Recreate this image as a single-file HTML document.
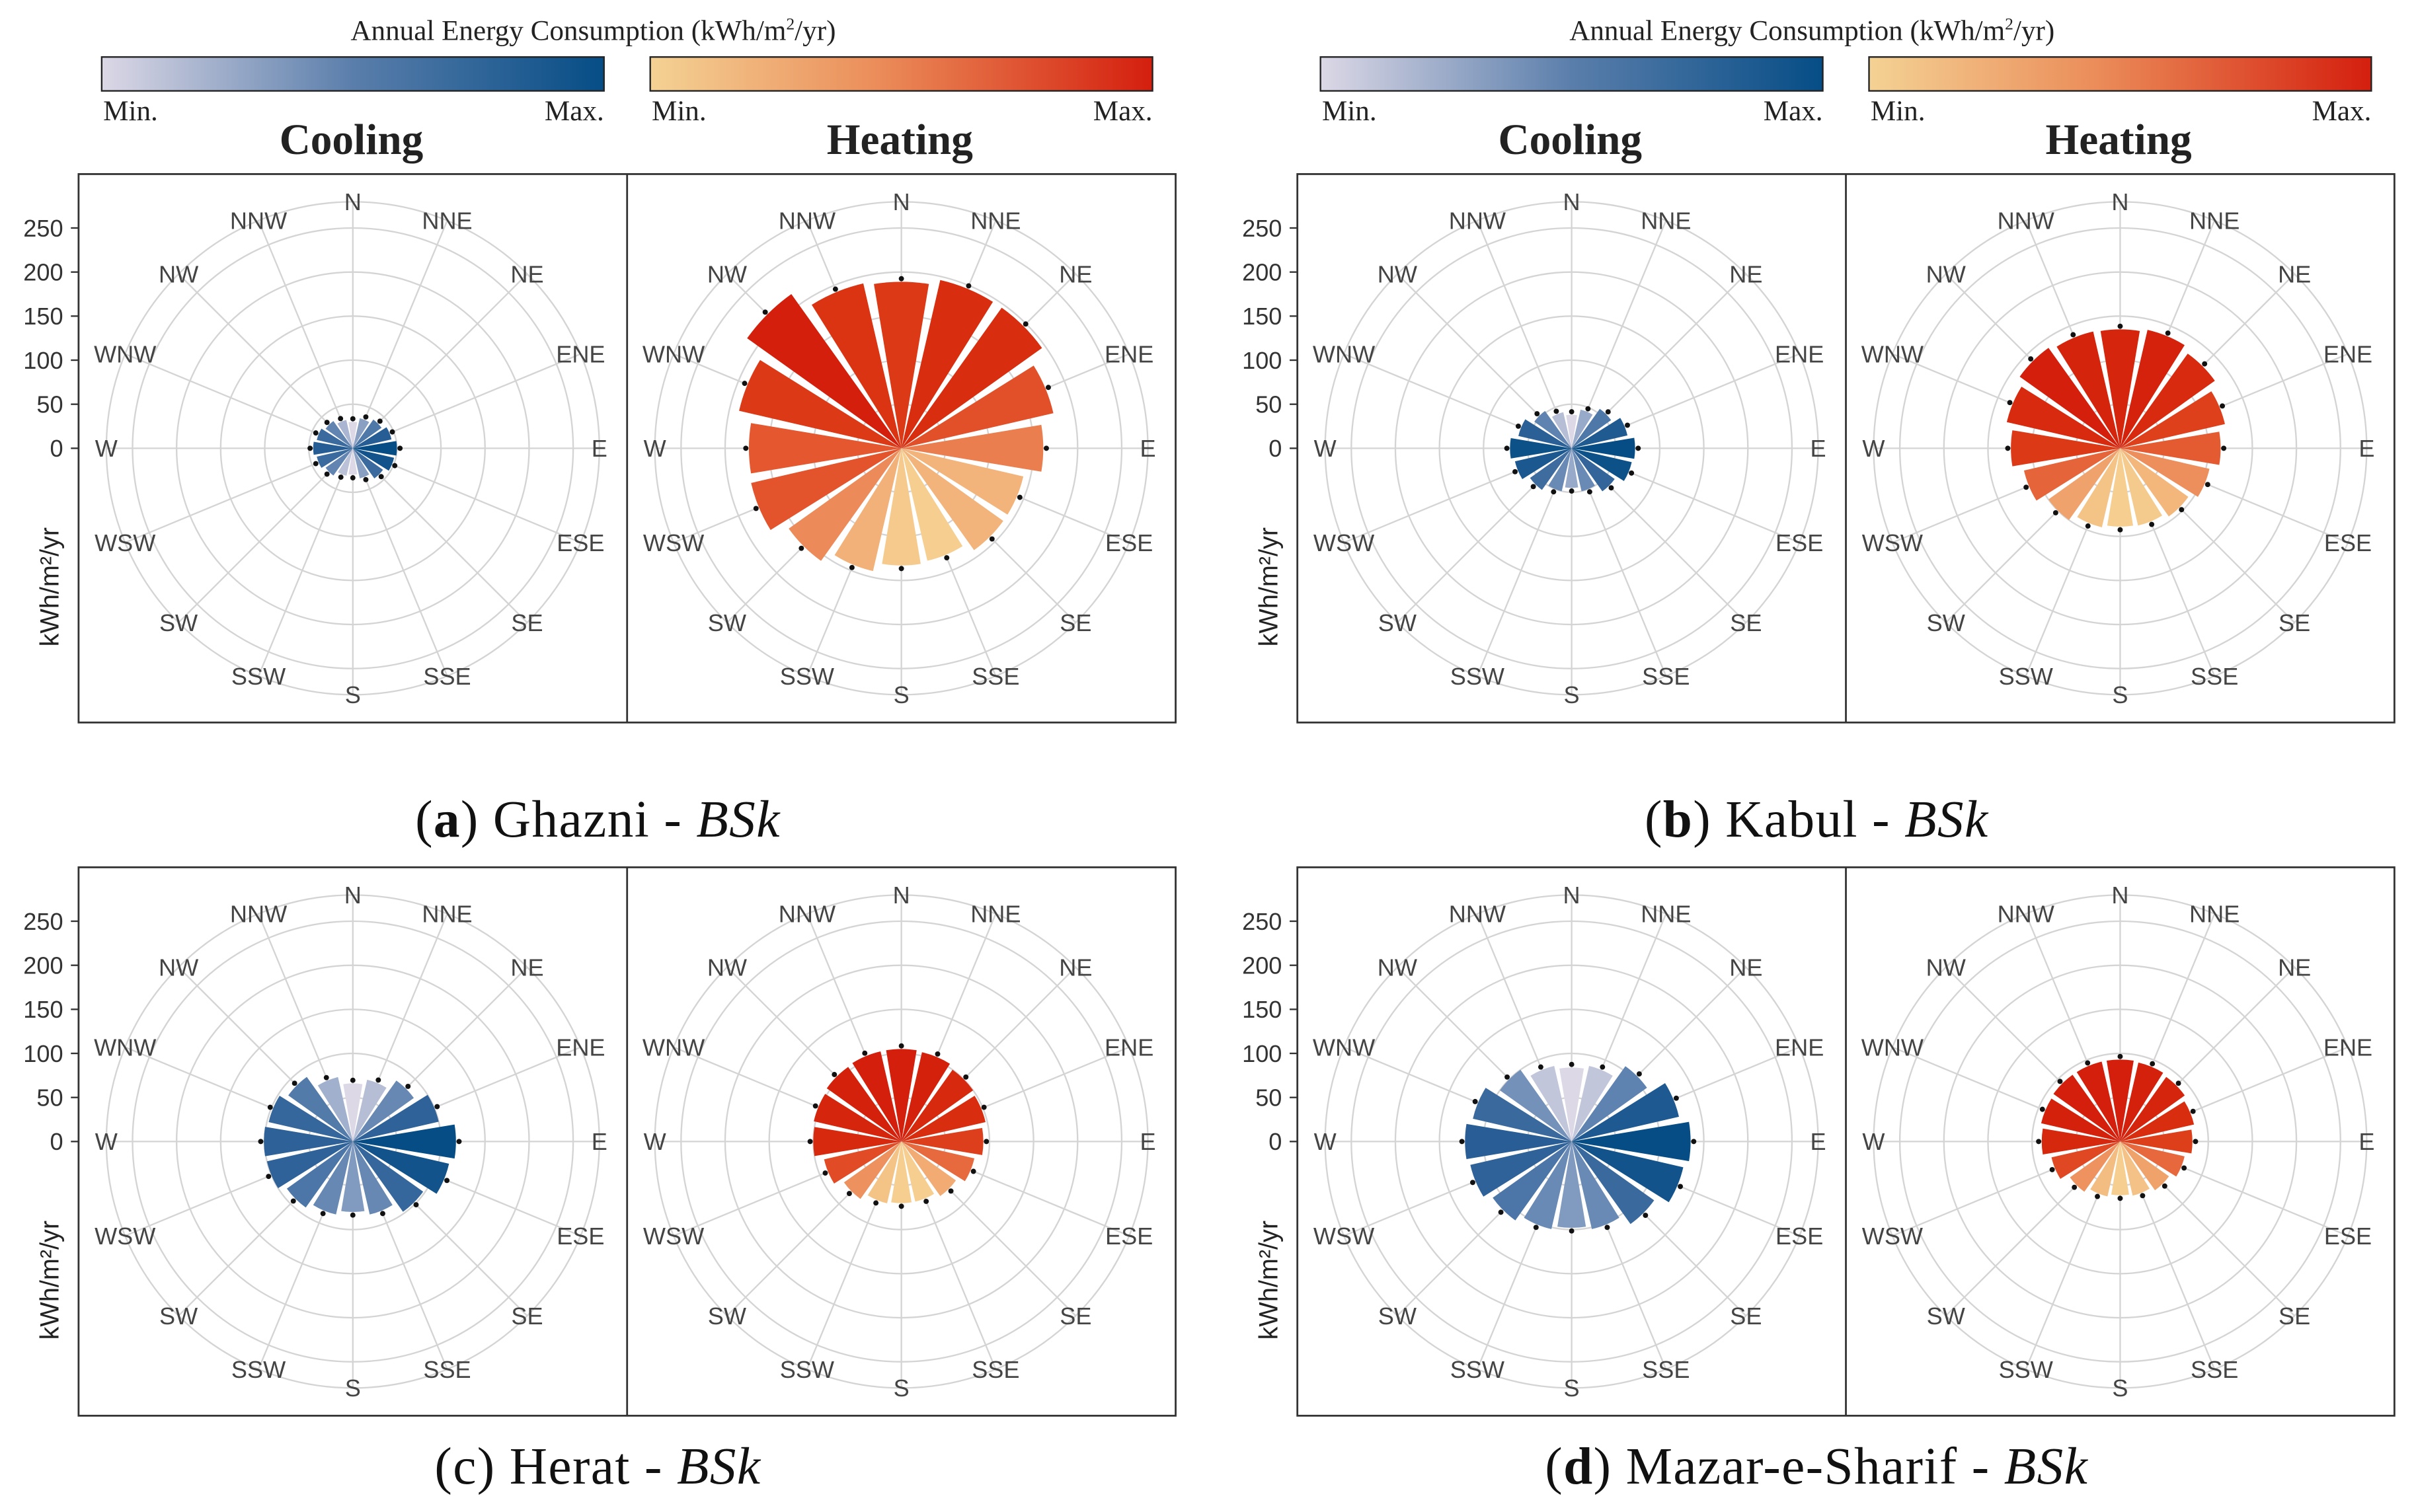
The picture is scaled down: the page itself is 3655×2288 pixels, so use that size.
<!DOCTYPE html>
<html><head><meta charset="utf-8"><style>
html,body{margin:0;padding:0;background:#fff;}
svg{display:block;}
</style></head><body>
<svg id="fig" xmlns="http://www.w3.org/2000/svg" width="3655" height="2288" viewBox="0 0 1568 981.5" preserveAspectRatio="none">
<defs>
<linearGradient id="gc" x1="0" x2="1"><stop offset="0" stop-color="#dcd8e6"/><stop offset="0.5" stop-color="#5a7eab"/><stop offset="1" stop-color="#064d86"/></linearGradient>
<linearGradient id="gh" x1="0" x2="1"><stop offset="0" stop-color="#f4d294"/><stop offset="0.45" stop-color="#eb8d5a"/><stop offset="1" stop-color="#d41f0e"/></linearGradient>
</defs>
<g id="root"></g>
</svg>
<script>
const directions = ["N","NNE","NE","ENE","E","ESE","SE","SSE","S","SSW","SW","WSW","W","WNW","NW","NNW"];
const yTicks = [0,50,100,150,200,250];
const ghazniCooling = [30,35,40,45,50,48,42,35,30,32,38,42,45,42,38,33];
const ghazniHeating = [189,196,196,177,161,142,142,131,133,143,157,175,173,189,215,192];
const kabulCooling = [38,45,55,65,72,70,60,50,45,50,58,66,70,62,52,42];
const kabulHeating = [135,138,132,122,114,104,95,90,89,92,100,112,124,132,140,136];
const heratCooling = [66,72,85,100,117,112,98,85,80,85,92,100,101,98,90,75];
const heratHeating = [105,104,100,98,93,85,76,70,70,72,80,90,100,102,104,105];
const mazarCooling = [84,88,105,125,135,130,115,102,98,102,110,118,121,115,100,88];
const mazarHeating = [93,92,90,86,82,75,68,63,61,64,70,80,89,92,93,93];

const NS="http://www.w3.org/2000/svg";
const root=document.getElementById('root');
function mk(tag,attrs,parent,text){const e=document.createElementNS(NS,tag);for(const k in attrs)e.setAttribute(k,attrs[k]);if(text!==undefined)e.textContent=text;(parent||root).appendChild(e);return e;}
const PX_PER_UNIT=143/250;
function rScale(v){return v*PX_PER_UNIT;}
function lerp(a,b,t){return a+(b-a)*t;}
function hex(c){return [parseInt(c.slice(1,3),16),parseInt(c.slice(3,5),16),parseInt(c.slice(5,7),16)];}
function ramp(stops,t){t=Math.max(0,Math.min(1,t));const n=stops.length-1;const i=Math.min(n-1,Math.floor(t*n));const f=t*n-i;const a=hex(stops[i]),b=hex(stops[i+1]);return 'rgb('+[0,1,2].map(k=>Math.round(lerp(a[k],b[k],f))).join(',')+')';}
const coolStops=["#dcd8e6","#6d8db7","#2f6298","#064d86"];
const heatStops=["#f6cf90","#ef9b66","#e4572f","#d9300f","#d31f0b"];
function pt(cx,cy,r,deg){const a=(deg-90)*Math.PI/180;return [cx+r*Math.cos(a),cy+r*Math.sin(a)];}

function polar(cx,cy,values,stops,name){
  const g=mk('g',{});
  
  
  [50,100,150,200,250].forEach(v=>{const c=mk('circle',{cx,cy,r:rScale(v),fill:'none',stroke:'#d4d4d4','stroke-width':1},g);});
  const oc=mk('circle',{cx,cy,r:160,fill:'none',stroke:'#d4d4d4','stroke-width':1},g);
  
  directions.forEach((d,i)=>{const p=pt(cx,cy,160,i*22.5);const l=mk('line',{x1:cx,y1:cy,x2:p[0],y2:p[1],stroke:'#d4d4d4','stroke-width':1},g);});
  const mn=Math.min(...values),mx=Math.max(...values);
  values.forEach((v,i)=>{
    const r=rScale(v),a0=i*22.5-9.5,a1=i*22.5+9.5;
    const p0=pt(cx,cy,r,a0),p1=pt(cx,cy,r,a1);
    const bar=mk('path',{d:`M${cx},${cy}L${p0[0]},${p0[1]}A${r},${r} 0 0 1 ${p1[0]},${p1[1]}Z`,fill:ramp(stops,(v-mn)/(mx-mn||1))},g);
    
    
    const dp=pt(cx,cy,r+2,i*22.5);
    const dot=mk('circle',{cx:dp[0],cy:dp[1],r:1.7,fill:'#111'},g);
    
    
  });
  directions.forEach((d,i)=>{const p=pt(cx,cy,160,i*22.5);const t=mk('text',{x:p[0],y:p[1]+5.5,'text-anchor':'middle','font-family':'Liberation Sans, sans-serif','font-size':15.5,fill:'#444'},g,d);});
}

function panel(x0,y0,cool,heat,cap,capName){
  const w=712,h=356,cy=y0+h/2;
  const f=mk('rect',{x:x0,y:y0,width:w,height:h,fill:'none',stroke:'#333','stroke-width':1.2});
  
  polar(x0+178,cy,cool,coolStops,'cooling-polar-chart');
  polar(x0+534,cy,heat,heatStops,'heating-polar-chart');
  const dv=mk('line',{x1:x0+356,y1:y0,x2:x0+356,y2:y0+h,stroke:'#333','stroke-width':1.2});
  
  yTicks.forEach(v=>{const y=cy-rScale(v);
    const t=mk('text',{x:x0-10,y:y+5.5,'text-anchor':'end','font-family':'Liberation Sans, sans-serif','font-size':15.5,fill:'#333'},root,String(v));
    
    const tk=mk('line',{x1:x0-5,y1:y,x2:x0,y2:y,stroke:'#333'});});
  const yt=mk('text',{x:0,y:0,transform:`translate(${x0-13},${y0+268}) rotate(-90)`,'text-anchor':'middle','font-family':'Liberation Sans, sans-serif','font-size':17,fill:'#222'},root,'kWh/m²/yr');
  
  const c=mk('text',{x:x0+337,y:cap.y,'text-anchor':'middle','font-family':'Liberation Serif, serif','font-size':34,'letter-spacing':'0.6',fill:'#111'});
  
  c.innerHTML=cap.html;
}
function legend(x0){
  const t=mk('text',{x:x0+334,y:26,'text-anchor':'middle','font-family':'Liberation Serif, serif','font-size':18.5,fill:'#222'},root);
  
  t.innerHTML='Annual Energy Consumption (kWh/m<tspan font-size="11" dy="-7">2</tspan><tspan dy="7">/yr)</tspan>';
  [[0,'gc','Cooling','cooling'],[356,'gh','Heating','heating']].forEach(([dx,g,lab,n])=>{
    const r=mk('rect',{x:x0+15+dx,y:37,width:326,height:22,fill:`url(#${g})`,stroke:'#222','stroke-width':1});
    
    const a=mk('text',{x:x0+16+dx,y:78,'font-family':'Liberation Serif, serif','font-size':18.5,fill:'#222'},root,'Min.');
    
    const b=mk('text',{x:x0+341+dx,y:78,'text-anchor':'end','font-family':'Liberation Serif, serif','font-size':18.5,fill:'#222'},root,'Max.');
    
    const h=mk('text',{x:x0+177+dx,y:100,'text-anchor':'middle','font-family':'Liberation Serif, serif','font-size':28,'font-weight':'bold',fill:'#222'},root,lab);
    
  });
}
legend(51);legend(842);
panel(51,113,ghazniCooling,ghazniHeating,{y:543,html:'(<tspan font-weight="bold">a</tspan>) Ghazni - <tspan font-style="italic">BSk</tspan>'},'caption-a');
panel(842,113,kabulCooling,kabulHeating,{y:543,html:'(<tspan font-weight="bold">b</tspan>) Kabul - <tspan font-style="italic">BSk</tspan>'},'caption-b');
panel(51,563,heratCooling,heratHeating,{y:963,html:'(c) Herat - <tspan font-style="italic">BSk</tspan>'},'caption-c');
panel(842,563,mazarCooling,mazarHeating,{y:963,html:'(<tspan font-weight="bold">d</tspan>) Mazar-e-Sharif - <tspan font-style="italic">BSk</tspan>'},'caption-d');
</script>
</body></html>
